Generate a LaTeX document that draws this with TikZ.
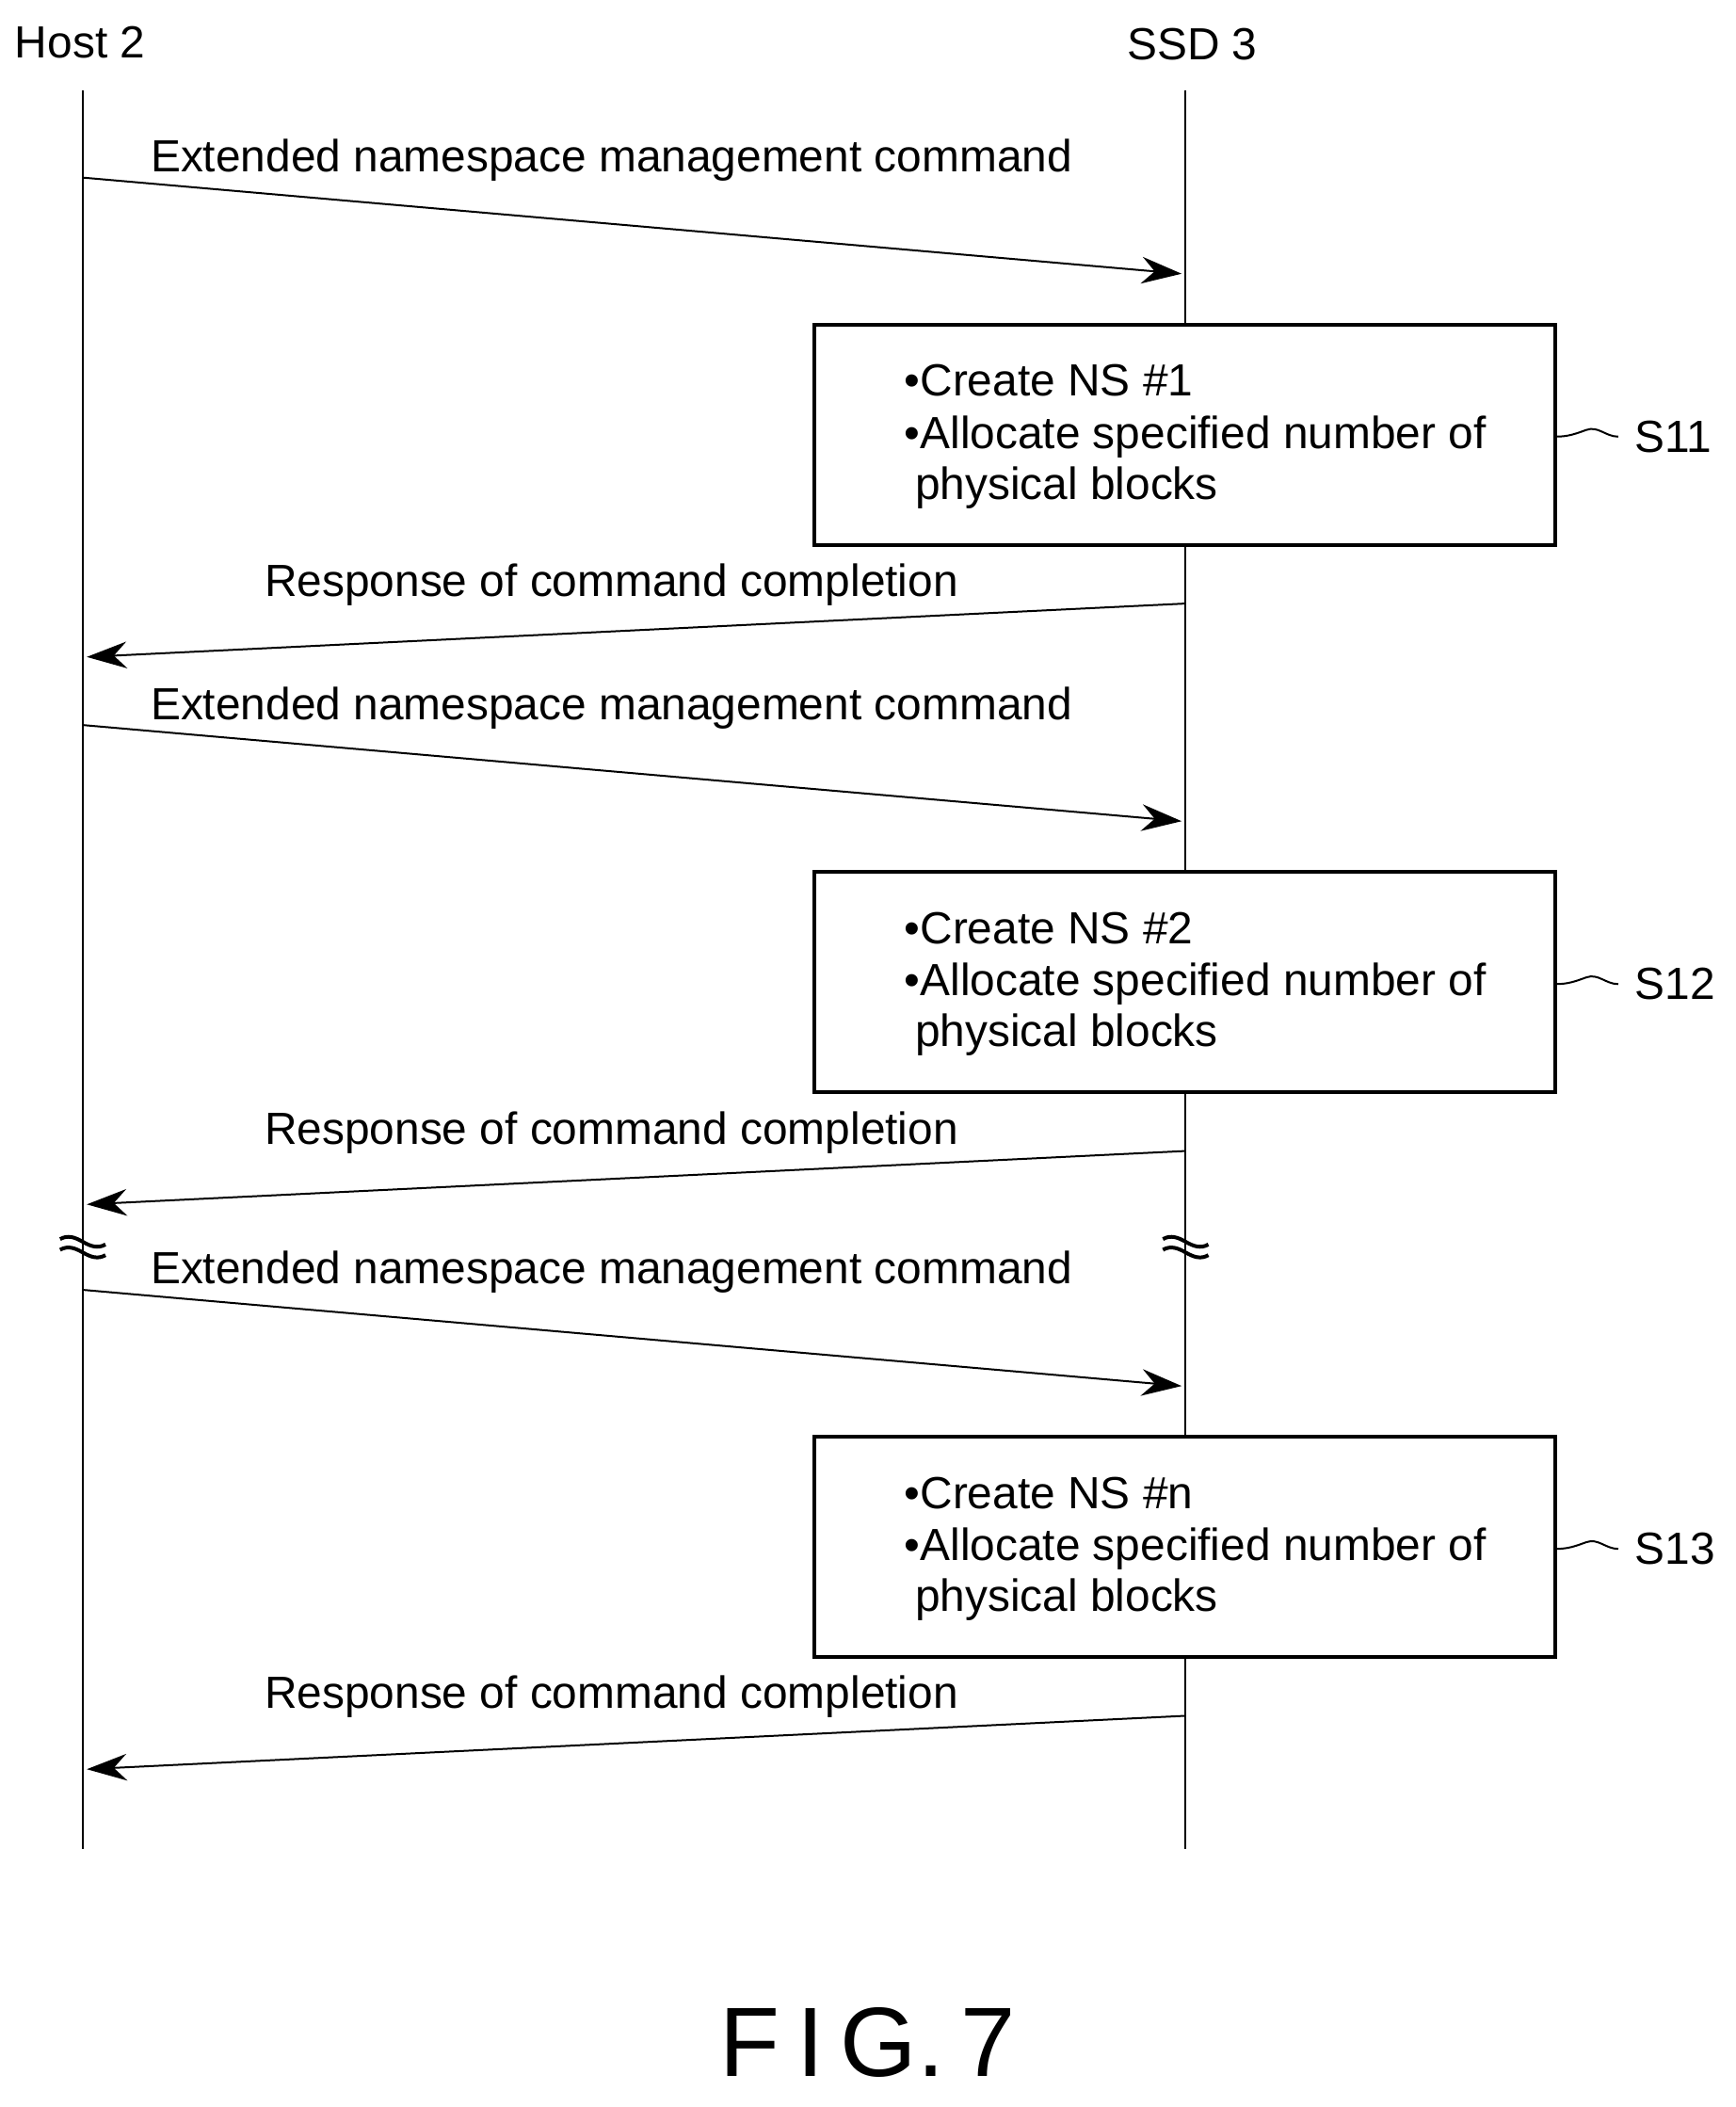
\documentclass[tikz,border=0pt]{standalone}
\usepackage{fontspec}
\setmainfont{Liberation Sans}
\usetikzlibrary{arrows.meta}
\tikzset{
  msg/.style={-{Stealth[length=3mm,width=2mm]}, thin},
  lbl/.style={font=\fontsize{9.6}{11}\selectfont},
  stepbox/.style={draw, thick},
}
\newcommand\drawNamespaceStep[2]{
  \coordinate (H1) at (0.62,-1.33);
  \coordinate (S1) at (8.85,-2.05);
  \coordinate (S2) at (8.88,-4.52);
  \coordinate (H2) at (0.65,-4.92);
  \draw[msg] (H1) -- (S1);
  \node[lbl] (cmd) at (4.58,-1.2) {Extended namespace management command};
  \draw[stepbox, fill=white] (6.1,-2.43) rectangle (11.65,-4.08);
  \node[lbl, anchor=west] (t1) at (6.65,-2.85) {•Create NS \##1};
  \node[lbl, anchor=west] (t2) at (6.65,-3.27) {•Allocate specified number of};
  \node[lbl, anchor=west] (t3) at (6.73,-3.65) {physical blocks};
  \coordinate (B) at (11.65,-3.27);
  \node[lbl, anchor=west] (tag) at (12.12,-3.27) {#2};
  \draw (B) to[out=0,in=200] (11.88,-3.22) to[out=20,in=180] (tag.west);
  \draw[msg] (S2) -- (H2);
  \node[lbl] (resp) at (4.58,-4.38) {Response of command completion};
}
\begin{document}
\begin{tikzpicture}
\useasboundingbox (0,0) rectangle (13,-15.78);
\node[lbl] (host) at (0.6,-0.32) {Host 2};
\node[lbl] (ssd) at (8.93,-0.33) {SSD 3};
\draw (0.62,-0.68) -- (0.62,-13.85);
\draw (8.88,-0.68) -- (8.88,-13.85);
\begin{scope}
\drawNamespaceStep{1}{S11}
\end{scope}
\begin{scope}[yshift=-4.1cm]
\drawNamespaceStep{2}{S12}
\end{scope}
\begin{scope}[yshift=-8.33cm]
\drawNamespaceStep{n}{S13}
\end{scope}
% break marks
\foreach \x in {0.62,8.88}{
  \foreach \dy in {0,-0.08}{
    \draw[thick] (\x-0.17,-9.28+\dy) to[out=30,in=150] (\x,-9.30+\dy) to[out=-30,in=210] (\x+0.17,-9.32+\dy);
  }
}
\node[font=\fontsize{21}{26}\selectfont] (fig) at (6.5,-15.3) {F\,I\,G.\,7};
\end{tikzpicture}
\end{document}
